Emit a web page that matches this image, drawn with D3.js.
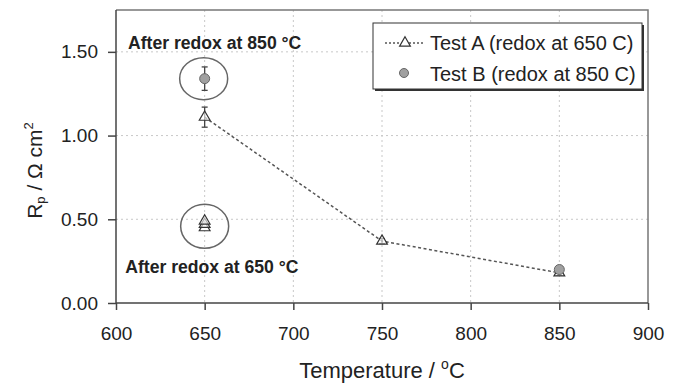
<!DOCTYPE html>
<html>
<head>
<meta charset="utf-8">
<script src="https://cdn.jsdelivr.net/npm/d3@7"></script>
<style>
  body { margin: 0; background: #fff; }
  svg { display: block; font-family: "Liberation Sans", Arial, sans-serif; }
</style>
</head>
<body>
<div id="chart"></div>
<script>
// Test A (redox at 650 C) - connected series
const tempA = [650, 750, 850];
const rpA = [1.11, 0.37, 0.18];
const errA = [0.06, 0.015, 0.015];
// Test A points after redox at 650 (stacked, not connected)
const tempA650 = [650, 650, 650];
const rpA650 = [0.45, 0.47, 0.49];
// Test B (redox at 850 C)
const tempB = [650, 850];
const rpB = [1.34, 0.20];
const errB = [0.07, 0.015];

const xTicks = [600, 650, 700, 750, 800, 850, 900];
const yTicks = [0, 0.5, 1.0, 1.5];
const legendLabels = ["Test A (redox at 650 C)", "Test B (redox at 850 C)"];

const width = 679, height = 386;
const margin = { top: 10, right: 31, bottom: 83, left: 116 };
const innerW = width - margin.left - margin.right;
const innerH = height - margin.top - margin.bottom;

const svg = d3.select("#chart")
  .append("svg")
  .attr("width", width)
  .attr("height", height);

const g = svg.append("g").attr("transform", `translate(${margin.left},${margin.top})`);

const x = d3.scaleLinear().domain([600, 900]).range([0, innerW]);
const y = d3.scaleLinear().domain([0, 1.75]).range([innerH, 0]);

// grid
g.selectAll(".vgrid")
  .data(xTicks.slice(1, -1))
  .join("line")
  .attr("x1", d => x(d)).attr("x2", d => x(d))
  .attr("y1", 0).attr("y2", innerH)
  .attr("stroke", "#c8c8c8")
  .attr("stroke-dasharray", "2,3");
g.selectAll(".hgrid")
  .data(yTicks.slice(1))
  .join("line")
  .attr("x1", 0).attr("x2", innerW)
  .attr("y1", d => y(d)).attr("y2", d => y(d))
  .attr("stroke", "#c8c8c8")
  .attr("stroke-dasharray", "2,3");

// frame (top and right)
g.append("path")
  .attr("d", `M0,0H${innerW}V${innerH}`)
  .attr("fill", "none")
  .attr("stroke", "#777")
  .attr("stroke-width", 1.5);

// axes
const xAxis = g.append("g")
  .attr("transform", `translate(0,${innerH})`)
  .call(d3.axisBottom(x).tickValues(xTicks).tickSize(7).tickPadding(17).tickFormat(d3.format("d")));
const yAxis = g.append("g")
  .call(d3.axisLeft(y).tickValues(yTicks).tickSize(8).tickPadding(10).tickFormat(d3.format(".2f")));
[xAxis, yAxis].forEach(ax => {
  ax.select(".domain").attr("stroke", "#444").attr("stroke-width", 1.5);
  ax.selectAll(".tick line").attr("stroke", "#444").attr("stroke-width", 1.5);
  ax.selectAll("text").attr("fill", "#222").style("font-size", "19px")
    .style("font-family", "'Liberation Sans', Arial, sans-serif");
});
xAxis.select(".domain").attr("d", `M0,0H${innerW}`);
yAxis.select(".domain").attr("d", `M0,${innerH}V0`);

// dashed line for Test A
const line = d3.line().x(d => x(d[0])).y(d => y(d[1]));
g.append("path")
  .datum(d3.zip(tempA, rpA))
  .attr("d", line)
  .attr("fill", "none")
  .attr("stroke", "#555")
  .attr("stroke-width", 1.5)
  .attr("stroke-dasharray", "3,2.5");

// error bars
function errorBars(temps, vals, errs) {
  const data = d3.zip(temps, vals, errs);
  const eb = g.append("g").attr("stroke", "#444").attr("stroke-width", 1.3);
  eb.selectAll(".v").data(data).join("line")
    .attr("x1", d => x(d[0])).attr("x2", d => x(d[0]))
    .attr("y1", d => y(d[1] + d[2])).attr("y2", d => y(d[1] - d[2]));
  eb.selectAll(".t").data(data).join("line")
    .attr("x1", d => x(d[0]) - 3).attr("x2", d => x(d[0]) + 3)
    .attr("y1", d => y(d[1] + d[2])).attr("y2", d => y(d[1] + d[2]));
  eb.selectAll(".b").data(data).join("line")
    .attr("x1", d => x(d[0]) - 3).attr("x2", d => x(d[0]) + 3)
    .attr("y1", d => y(d[1] - d[2])).attr("y2", d => y(d[1] - d[2]));
}
errorBars(tempA, rpA, errA);
errorBars(tempB, rpB, errB);

const tri = d3.symbol().type(d3.symbolTriangle).size(50);

// triangles
g.selectAll(".triA")
  .data(d3.zip(tempA.concat(tempA650), rpA.concat(rpA650)))
  .join("path")
  .attr("d", tri)
  .attr("transform", d => `translate(${x(d[0])},${y(d[1])})`)
  .attr("fill", "#fff")
  .attr("fill-opacity", 0.6)
  .attr("stroke", "#333")
  .attr("stroke-width", 1.2);

// circles
g.selectAll(".cirB")
  .data(d3.zip(tempB, rpB))
  .join("circle")
  .attr("cx", d => x(d[0]))
  .attr("cy", d => y(d[1]))
  .attr("r", 5)
  .attr("fill", "#a0a0a0")
  .attr("stroke", "#666")
  .attr("stroke-width", 1);

// ellipses highlighting 650 points
g.append("ellipse")
  .attr("cx", x(650) - 1).attr("cy", y(rpB[0]))
  .attr("rx", 24).attr("ry", 21)
  .attr("fill", "none").attr("stroke", "#666").attr("stroke-width", 1.5);
g.append("ellipse")
  .attr("cx", x(650)).attr("cy", y(d3.mean(rpA650)) + 2)
  .attr("rx", 24).attr("ry", 22)
  .attr("fill", "none").attr("stroke", "#666").attr("stroke-width", 1.5);

// annotations
g.append("text")
  .attr("x", x(606.8)).attr("y", y(1.52))
  .attr("font-weight", "bold").attr("font-size", 17.6).attr("fill", "#222")
  .text("After redox at 850 °C");
g.append("text")
  .attr("x", x(605.2)).attr("y", y(0.18))
  .attr("font-weight", "bold").attr("font-size", 17.6).attr("fill", "#222")
  .text("After redox at 650 °C");

// legend
const lg = svg.append("g").attr("transform", "translate(373,23)");
const lw = 269, lh = 66;
lg.append("rect").attr("x", 2).attr("y", 2).attr("width", lw).attr("height", lh).attr("fill", "#333");
lg.append("rect").attr("width", lw).attr("height", lh).attr("fill", "#fff").attr("stroke", "#333").attr("stroke-width", 1);
lg.append("line").attr("x1", 12).attr("x2", 52).attr("y1", 20).attr("y2", 20)
  .attr("stroke", "#555").attr("stroke-width", 1.3).attr("stroke-dasharray", "2,2");
lg.append("path").attr("d", tri).attr("transform", "translate(32,20)")
  .attr("fill", "#fff").attr("stroke", "#333").attr("stroke-width", 1.2);
lg.append("circle").attr("cx", 31).attr("cy", 50).attr("r", 4.5)
  .attr("fill", "#a0a0a0").attr("stroke", "#666");
lg.selectAll(".lt").data(legendLabels).join("text")
  .attr("x", 57).attr("y", (d, i) => 27 + i * 31)
  .attr("font-size", 20).attr("fill", "#222")
  .text(d => d);

// axis titles
const xt = svg.append("text")
  .attr("x", margin.left + innerW / 2).attr("y", 378)
  .attr("text-anchor", "middle").attr("font-size", 22).attr("fill", "#222");
xt.append("tspan").text("Temperature / ");
xt.append("tspan").attr("dy", -9).attr("font-size", 14).text("o");
xt.append("tspan").attr("dy", 9).text("C");

const yt = svg.append("text")
  .attr("transform", `translate(42,${margin.top + innerH / 2 + 14}) rotate(-90)`)
  .attr("text-anchor", "middle").attr("font-size", 21).attr("fill", "#222");
yt.append("tspan").text("R");
yt.append("tspan").attr("dy", 3).attr("font-size", 13).text("p");
yt.append("tspan").attr("dy", -3).text(" / Ω cm");
yt.append("tspan").attr("dy", -9).attr("font-size", 13).text("2");
</script>
</body>
</html>
